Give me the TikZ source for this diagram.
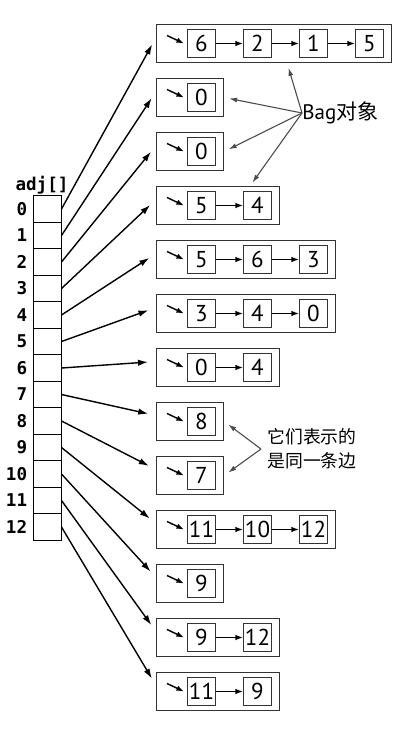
\documentclass[tikz,border=0pt]{standalone}
\usepackage{fontspec}
\setmainfont{PT Sans}
\newfontfamily\cjkfont{Noto Sans CJK SC}
\newfontfamily\idxfont{DejaVu Sans Mono}
\usetikzlibrary{arrows.meta}
\tikzset{
  arrcell/.style={draw, minimum width=14pt, minimum height=13.25pt, inner sep=0pt, line width=0.5pt},
  idxlabel/.style={font=\idxfont\bfseries\fontsize{8.8}{10}\selectfont, inner sep=0pt},
  bagbox/.style={draw=black!80, line width=0.6pt, minimum height=19pt, inner sep=0pt, anchor=west},
  item/.style={draw=black!80, line width=0.5pt, minimum size=14pt, inner sep=0pt, font=\fontsize{11.5}{12}\selectfont},
  ptr/.style={-{Latex[length=5pt,width=3.2pt]}, line width=0.7pt},
  link/.style={-{Latex[length=3.8pt,width=2.8pt]}, line width=0.7pt},
  note/.style={-{Latex[length=4pt,width=2.5pt]}, draw=black!70, line width=0.55pt},
  notetext/.style={inner sep=0pt, anchor=west},
}
\begin{document}
\begin{tikzpicture}[x=0.5pt,y=-0.5pt]
  \useasboundingbox (0,0) rectangle (406,734);
  % the array adj[]
  \node[idxlabel, anchor=base] (adjlabel) at (42,190) {adj[]};
  \foreach \i in {0,...,12} {
    \node[arrcell] (a\i) at (47,{209+26.5*\i}) {};
    \node[idxlabel, anchor=east, xshift=-2.5pt] (n\i) at (a\i.west) {\i};
  }
  % one Bag per vertex
  \foreach \i/\lst/\n in {0/{6,2,1,5}/4, 1/{0}/1, 2/{0}/1, 3/{5,4}/2, 4/{5,6,3}/3,
      5/{3,4,0}/3, 6/{0,4}/2, 7/{8}/1, 8/{7}/1, 9/{11,10,12}/3, 10/{9}/1,
      11/{9,12}/2, 12/{11,9}/2} {
    \node[bagbox, minimum width={33.5pt+28pt*(\n-1)}] (bag\i) at (156,{43.5+54*\i}) {};
    \coordinate (p\i) at (167,{35.5+54*\i});
    \foreach \v [count=\k from 0] in \lst {
      \node[item] (c\i-\k) at ({201.5+56*\k},{43.5+54*\i}) {\v};
      \ifnum\k>0
        \pgfmathtruncatemacro\prev{\k-1}
        \draw[link] (c\i-\prev) -- (c\i-\k);
      \fi
    }
    \draw[link] (p\i) -- ([xshift=-1.5pt]c\i-0.west);
    \draw[ptr, shorten >=4pt] (a\i.east) -- ([yshift=3pt]bag\i.west);
  }
  % notes
  \node[notetext, font=\fontsize{10.5}{12}\selectfont] (bagnote) at (302,113) {Bag{\cjkfont 对象}};
  \draw[note, shorten >=2.5pt] (bagnote.west) -- ([xshift=6.5pt]bag0.south);
  \draw[note, shorten >=2.5pt] (bagnote.west) -- (bag1.east);
  \draw[note, shorten >=2.5pt] (bagnote.west) -- (bag2.east);
  \draw[note, shorten >=2pt] (bagnote.west) -- ([xshift=16pt]bag3.north);
  \node[notetext, align=left, inner sep=3pt, font=\cjkfont\fontsize{8.9}{12}\selectfont] (edgenote) at (261,449) {它们表示的\\是同一条边};
  \draw[note, shorten >=2.5pt] (edgenote.west) -- (bag7.east);
  \draw[note, shorten >=2.5pt] (edgenote.west) -- (bag8.east);
\end{tikzpicture}
\end{document}
